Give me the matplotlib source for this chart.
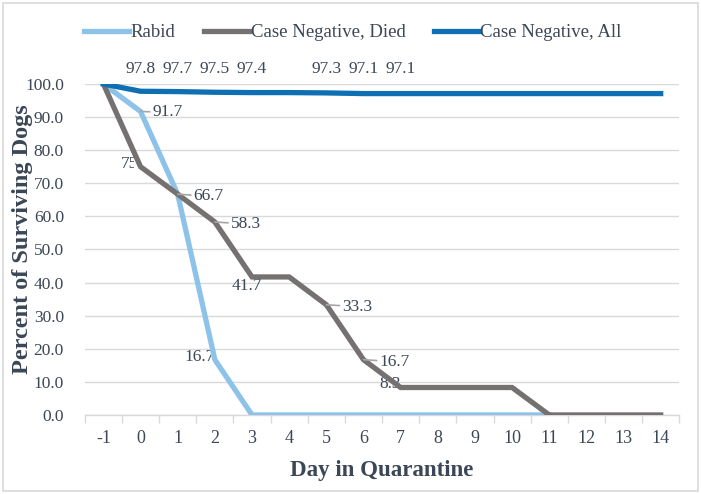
import numpy as np
import matplotlib
matplotlib.use('Agg')
import matplotlib.pyplot as plt
from matplotlib.patches import Rectangle
from matplotlib.transforms import Bbox, TransformedBbox

days = list(range(-1, 15))
rabid = [100.0, 91.7, 66.7, 16.7, 0.0, 0.0, 0.0, 0.0, 0.0, 0.0, 0.0, 0.0, 0.0]
neg_died = [100.0, 75.0, 66.7, 58.3, 41.7, 41.7, 33.3, 16.7, 8.3, 8.3, 8.3, 8.3,
            0.0, 0.0, 0.0, 0.0]
neg_all = [100.0, 97.8, 97.7, 97.5, 97.4, 97.4, 97.3, 97.1, 97.1, 97.1, 97.1,
           97.1, 97.1, 97.1, 97.1, 97.1]

# which points carry a data label (day values)
rabid_lbl_right = [0]
rabid_lbl_left = [2]
died_lbl_right = [1, 2, 5, 6]
died_lbl_left = [0, 7]
died_lbl_below = [3]
all_lbl_above = [0, 1, 2, 3, 5, 6, 7]

c_rabid = '#8DC3E8'
c_died = '#767171'
c_all = '#0F6FB4'
c_text = '#3B4656'
c_grid = '#D9D9D9'

plt.rcParams['font.family'] = ['Liberation Serif', 'DejaVu Serif']

fig = plt.figure(figsize=(7.01, 4.94), dpi=100)
ax = fig.add_axes([0.121, 0.160, 0.848, 0.670])
fig.patches.append(Rectangle((0.004, 0.006), 0.992, 0.988, transform=fig.transFigure,
                             fill=False, edgecolor='#D9D9D9', linewidth=1.2))

lw = 3.8
ax.plot(days[:len(rabid)], rabid, color=c_rabid, lw=lw, label='Rabid',
        solid_joinstyle='miter', zorder=3)
ax.plot(days, neg_died, color=c_died, lw=lw, label='Case Negative, Died',
        solid_joinstyle='miter', zorder=4)
ax.plot(days, neg_all, color=c_all, lw=lw, label='Case Negative, All',
        solid_joinstyle='miter', zorder=5)

lbl_size = 12.5


def label(x, y, dx, dy, ha, leader=False, z=6):
    ap = None
    if leader:
        ap = dict(arrowstyle='-', color='#A6A6A6', lw=1.2, shrinkA=0, shrinkB=0)
    return ax.annotate('%.1f' % y, xy=(x, y), xytext=(dx, dy), textcoords='offset pixels',
                       ha=ha, va='center', fontsize=lbl_size, color=c_text,
                       arrowprops=ap, zorder=z)


for d in rabid_lbl_right:
    i = days.index(d)
    label(d, rabid[i], 12, -1, 'left', leader=True)
for d in rabid_lbl_left:
    i = days.index(d)
    label(d, rabid[i], 0, 3, 'right', z=2)
for d in died_lbl_right:
    i = days.index(d)
    label(d, neg_died[i], 16, -2, 'left', leader=True)
for d in died_lbl_left:
    i = days.index(d)
    t = label(d, neg_died[i], 10 if d == 0 else 0, 3, 'right', z=2)
    if d == 0:
        # label partly hidden behind the line, as in the source chart
        t.set_clip_box(TransformedBbox(Bbox([[d - 1, 60], [d - 0.17, 90]]), ax.transData))
for d in died_lbl_below:
    i = days.index(d)
    label(d, neg_died[i], -5, -9, 'center', z=2)
for d in all_lbl_above:
    i = days.index(d)
    ax.annotate('%.1f' % neg_all[i], xy=(d, neg_all[i]), xytext=(d, 104.6),
                textcoords='data', ha='center', va='center', fontsize=lbl_size,
                color=c_text, annotation_clip=False)

ax.set_xlim(-1.5, 14.5)
ax.set_ylim(0, 100)
ax.set_yticks(np.arange(0, 101, 10))
ax.set_yticklabels(['%.1f' % v for v in np.arange(0, 101, 10)])
ax.set_xticks(days)
ax.set_xticklabels([str(d) for d in days])
ax.set_xticks(np.arange(-1.5, 14.6, 1), minor=True)
ax.tick_params(axis='x', which='major', length=0, pad=11, labelsize=13, labelcolor=c_text)
ax.tick_params(axis='x', which='minor', length=6, color=c_grid, width=1)
ax.tick_params(axis='y', length=0, pad=15, labelsize=12.5, labelcolor=c_text)
ax.grid(axis='y', color=c_grid, lw=1)
ax.set_axisbelow(True)
for s in ['top', 'right', 'left']:
    ax.spines[s].set_visible(False)
ax.spines['bottom'].set_color(c_grid)
ax.spines['bottom'].set_linewidth(1)

ax.set_xlabel('Day in Quarantine', fontsize=16.5, fontweight='bold', color=c_text)
ax.xaxis.set_label_coords(0.5, -0.135)
ax.set_ylabel('Percent of Surviving Dogs', fontsize=17.5, fontweight='bold', color=c_text)
ax.yaxis.set_label_coords(-0.087, 0.53)

ax.legend(loc='center', bbox_to_anchor=(0.451, 1.155), ncol=3, frameon=False,
          fontsize=13.5, handlelength=2.4, handletextpad=0.1, columnspacing=1.5,
          labelcolor=c_text)

fig.savefig('out.png', dpi=100)
